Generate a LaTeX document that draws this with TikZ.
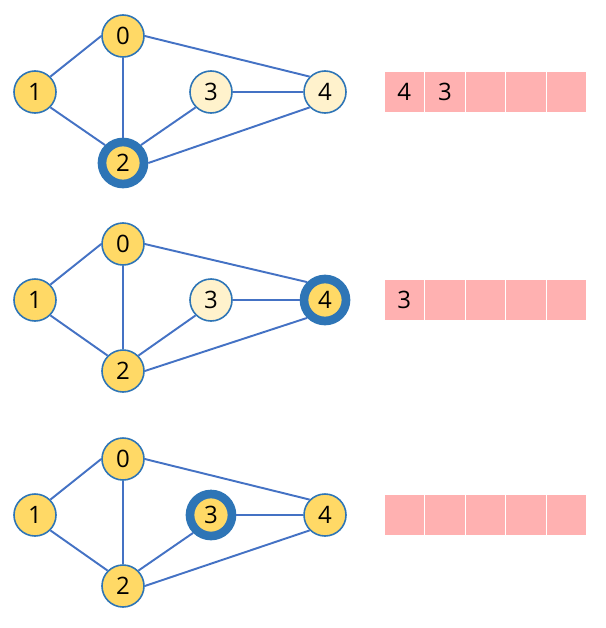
\documentclass[tikz,border=0pt]{standalone}
\usepackage{fontspec}
\setmainfont{Open Sans}
\definecolor{nodeyellow}{HTML}{FFD966}
\definecolor{paleyellow}{HTML}{FFF2CC}
\definecolor{linkblue}{HTML}{4472C4}
\definecolor{ringblue}{HTML}{2E75B6}
\definecolor{queuepink}{HTML}{FFB1B1}
\tikzset{
  vert/.style={circle,draw=ringblue,line width=1.2pt,minimum size=31.5pt,inner sep=0pt,
    font=\fontsize{18}{21}\selectfont},
  seen/.style={vert,fill=nodeyellow},
  fresh/.style={vert,fill=paleyellow},
  cur/.style={seen,line width=6.5pt},
  link/.style={draw=linkblue,line width=1.45pt},
  cell/.style={rectangle,draw=white,line width=0.8pt,fill=queuepink,inner sep=0pt,
    minimum width=30.45pt,minimum height=31.5pt,font=\fontsize{18}{21}\selectfont}
}
\begin{document}
\begin{tikzpicture}[x=0.75pt,y=-0.75pt]
\useasboundingbox (0,0) rectangle (606,628);

% one row per step: node styles, then queue contents
\foreach \p/\yo/\ka/\kb/\kc/\kd/\ke/\qa/\qb in
  {1/36/seen/seen/cur/fresh/fresh/4/3,
   2/244/seen/seen/seen/fresh/cur/3/{},
   3/459/seen/seen/seen/cur/seen/{}/{}}{
  \node[\ka] (g\p-0) at (123,\yo) {0};
  \node[\kb] (g\p-1) at (35,\yo+56) {1};
  \node[\kc] (g\p-2) at (123,\yo+127) {2};
  \node[\kd] (g\p-3) at (211,\yo+56) {3};
  \node[\ke] (g\p-4) at (325,\yo+56) {4};

  \draw[link] (g\p-0.west) -- (g\p-1.north east);
  \draw[link] (g\p-0.south) -- (g\p-2.north);
  \draw[link] (g\p-0.east) -- (g\p-4.north west);
  \draw[link] (g\p-1.south east) -- (g\p-2.north west);
  \draw[link] (g\p-2.north east) -- (g\p-3.south west);
  \draw[link] (g\p-2.east) -- (g\p-4.south west);
  \draw[link] (g\p-3.east) -- (g\p-4.west);

  \node[cell] (q\p-0) at (404.3,\yo+56) {\qa};
  \node[cell] (q\p-1) at (444.9,\yo+56) {\qb};
  \node[cell] (q\p-2) at (485.5,\yo+56) {};
  \node[cell] (q\p-3) at (526.1,\yo+56) {};
  \node[cell] (q\p-4) at (566.7,\yo+56) {};
}
\end{tikzpicture}
\end{document}
